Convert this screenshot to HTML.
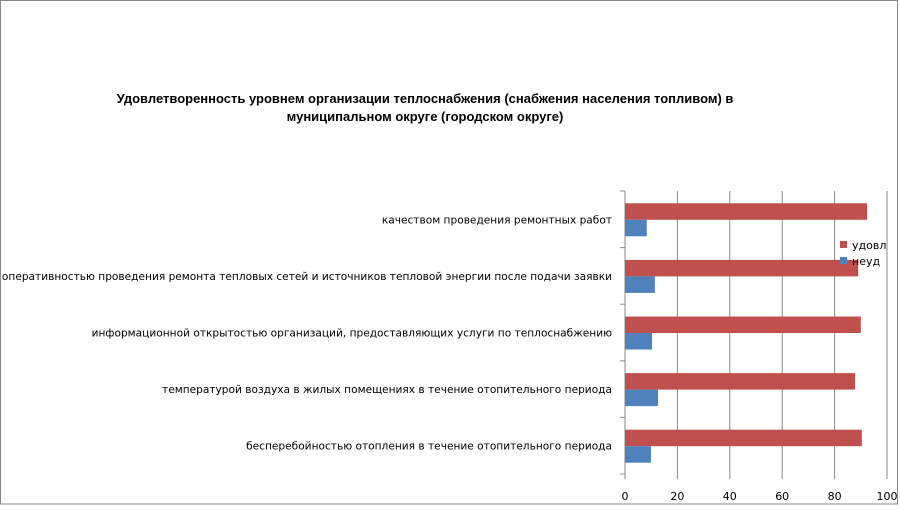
<!DOCTYPE html>
<html><head><meta charset="utf-8"><style>
body{margin:0;background:#fff;font-family:"Liberation Sans",sans-serif}
#c{position:relative;width:900px;height:505px}
.lbl{font-family:"DejaVu Sans",sans-serif}
</style></head><body>
<div id="c">
<svg width="900" height="505">
<rect x="0.5" y="0.5" width="897" height="503.5" fill="#fff" stroke="#888"/>
<text x="425" y="103" text-anchor="middle" font-size="13" font-weight="bold">Удовлетворенность уровнем организации теплоснабжения (снабжения населения топливом) в</text>
<text x="425" y="121" text-anchor="middle" font-size="13" font-weight="bold">муниципальном округе (городском округе)</text>
<g id="plot"></g>
</svg>
</div>
<script>
const categories=["качеством проведения ремонтных работ","оперативностью проведения ремонта тепловых сетей и источников тепловой энергии после подачи заявки","информационной открытостью организаций, предоставляющих услуги по теплоснабжению","температурой воздуха в жилых помещениях в течение отопительного периода","бесперебойностью отопления в течение отопительного периода"];
const udovl=[92.4,89,90,87.8,90.4];
const neud=[8.3,11.4,10.3,12.6,9.9];
const ticks=[0,20,40,60,80,100];
const NS="http://www.w3.org/2000/svg";
const g=document.getElementById('plot');
const x0=625,x1=887,yTop=191,yBot=474;
const xs=v=>x0+(x1-x0)*v/100;
const band=(yBot-yTop)/categories.length;
function mk(t,a){const e=document.createElementNS(NS,t);for(const k in a)e.setAttribute(k,a[k]);g.appendChild(e);return e;}
ticks.forEach(t=>{
 const l=mk('line',{x1:xs(t),x2:xs(t),y1:yTop,y2:yBot+5,stroke:'#888','stroke-width':1});
 
 
 const tx=mk('text',{x:xs(t),y:500,'text-anchor':'middle','font-size':11,'class':'lbl'});
 tx.textContent=t;
 
 
});
const yax=mk('line',{x1:x0,x2:x0,y1:yTop,y2:yBot,stroke:'#888'});


for(let i=0;i<=categories.length;i++){
 const t=mk('line',{x1:x0-5,x2:x0,y1:yTop+band*i,y2:yTop+band*i,stroke:'#888'});
 
 
}
categories.forEach((c,i)=>{
 const cy=yTop+band*i+band/2;
 const r=mk('rect',{x:x0,y:cy-16,width:xs(udovl[i])-x0,height:16.5,fill:'#c0504d'});
 
 
 const b=mk('rect',{x:x0,y:cy+0.5,width:xs(neud[i])-x0,height:16.5,fill:'#4f81bd'});
 
 
 const tx=mk('text',{x:612,y:cy+4,'text-anchor':'end','font-size':10.6,'class':'lbl'});
 tx.textContent=c;
 
 
});
[['удовл','#c0504d',245],['неуд','#4f81bd',261]].forEach((s,i)=>{
 const r=mk('rect',{x:840,y:s[2]-4,width:7,height:7,fill:s[1]});
 
 
 const t=mk('text',{x:852,y:s[2]+4,'font-size':11,'class':'lbl'});
 t.textContent=s[0];
 
 
});
</script>
</body></html>
